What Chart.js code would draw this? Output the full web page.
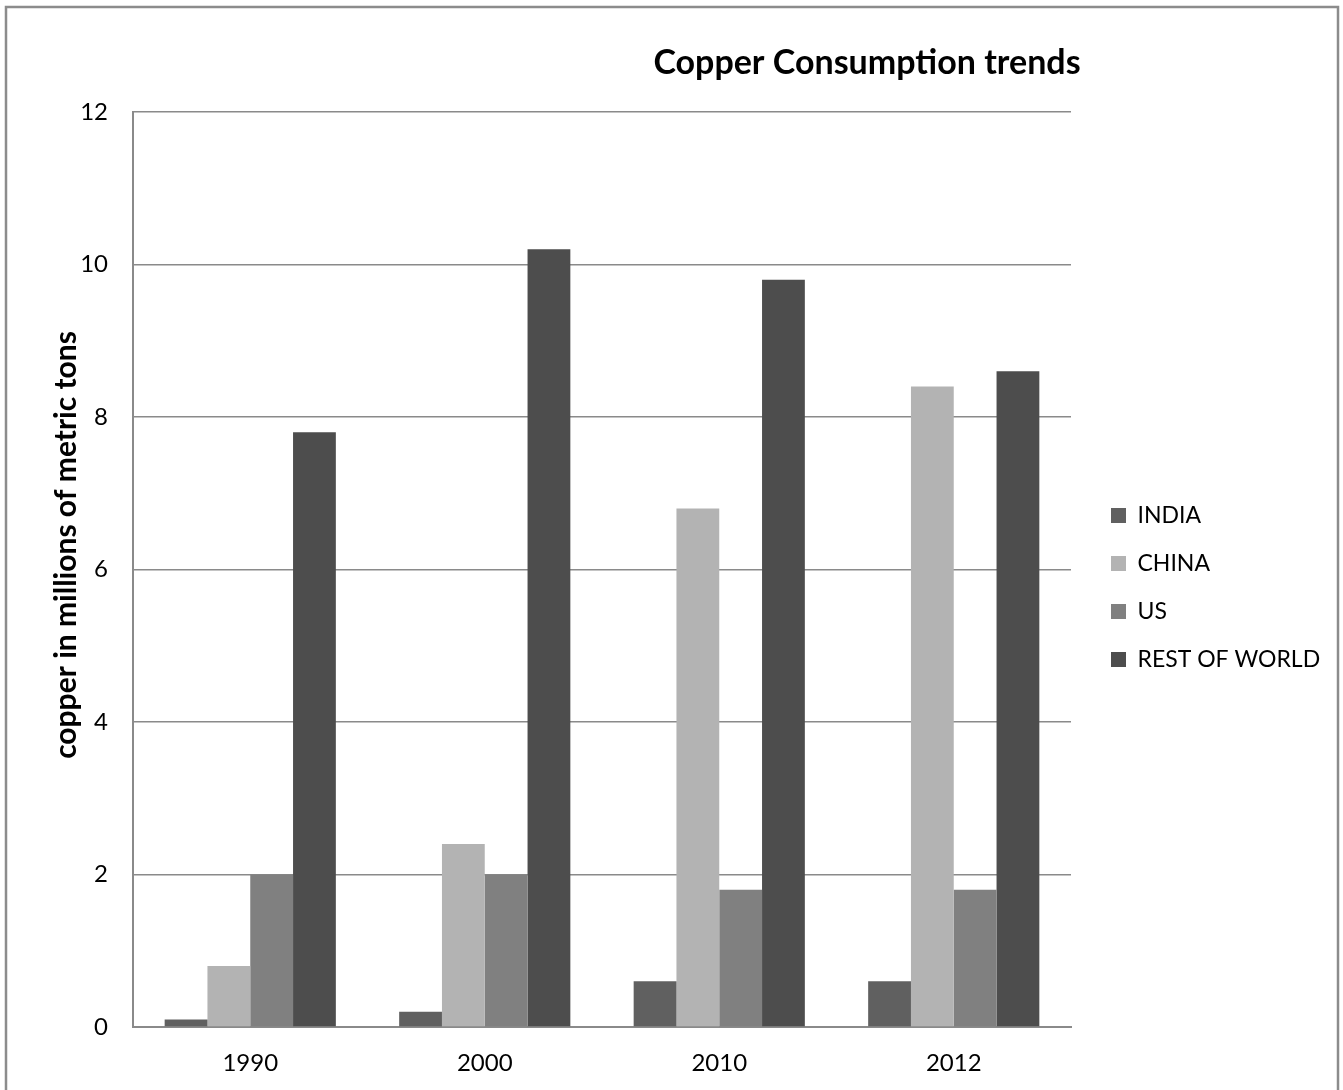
<!DOCTYPE html>
<html>
<head>
<meta charset="utf-8">
<script src="https://cdn.jsdelivr.net/npm/chart.js@4.4.1/dist/chart.umd.min.js"></script>
<style>
  html, body { margin: 0; padding: 0; background: #fff; }
</style>
</head>
<body>
<canvas id="myChart" width="1343" height="1090"></canvas>
<script>
// chart data
var years = ['1990', '2000', '2010', '2012'];
var india = [0.1, 0.2, 0.6, 0.6];
var china = [0.8, 2.4, 6.8, 8.4];
var us = [2.0, 2.0, 1.8, 1.8];
var restOfWorld = [7.8, 10.2, 9.8, 8.6];
var yTicks = [0, 2, 4, 6, 8, 10, 12];

var chartTitle = 'Copper Consumption trends';
var yTitle = 'copper in millions of metric tons';

var gridColor = '#8a8a8a';
var fontName = 'Lato';
var plotRight = 1071;   // where the plot area should end
var legendGap = 15;     // extra space between plot and legend

// frame + titles drawn on the canvas, legend nudged right
var decorations = {
    id: 'decorations',
    afterLayout: function(chart) {
        var lg = chart.legend;
        if (lg) {
            lg.left += legendGap;
            lg.right += legendGap;
        }
    },
    beforeDraw: function(chart) {
        var c = chart.ctx;
        c.save();
        c.fillStyle = '#fff';
        c.fillRect(0, 0, chart.width, chart.height);
        c.strokeStyle = '#8c8c8c';
        c.lineWidth = 2.5;
        c.strokeRect(6, 7, 1332, 1200);
        c.restore();
    },
    afterDraw: function(chart) {
        var c = chart.ctx;
        c.save();
        c.fillStyle = '#000';
        c.font = 'bold 34px ' + fontName;
        c.textAlign = 'center';
        c.textBaseline = 'alphabetic';
        c.fillText(chartTitle, 867, 74);

        c.translate(66, 545);
        c.rotate(-Math.PI / 2);
        c.font = 'bold 30px ' + fontName;
        c.textBaseline = 'middle';
        c.fillText(yTitle, 0, 0);
        c.restore();
    }
};

function build() {
    var ctx = document.getElementById('myChart').getContext('2d');
    var myChart = new Chart(ctx, {
        type: 'bar',
        data: {
            labels: years,
            datasets: [
                { label: 'INDIA', data: india, backgroundColor: '#606060' },
                { label: 'CHINA', data: china, backgroundColor: '#b3b3b3' },
                { label: 'US', data: us, backgroundColor: '#808080' },
                { label: 'REST OF WORLD', data: restOfWorld, backgroundColor: '#4d4d4d' }
            ]
        },
        options: {
            responsive: false,
            animation: false,
            categoryPercentage: 0.73,
            barPercentage: 1,
            layout: {
                padding: { top: 112, right: 40, bottom: 0, left: 0 }
            },
            scales: {
                x: {
                    grid: { display: false },
                    border: { display: true, color: gridColor, width: 2 },
                    ticks: { color: '#000', padding: 14, font: { family: fontName, size: 24 } },
                    afterFit: function(s) { s.height = 63; }
                },
                y: {
                    min: 0,
                    max: 12,
                    afterBuildTicks: function(s) {
                        s.ticks = yTicks.map(function(v) { return { value: v }; });
                    },
                    grid: { color: gridColor, lineWidth: 1.6, drawTicks: false },
                    border: { display: true, color: gridColor, width: 2 },
                    ticks: { color: '#000', padding: 25, font: { family: fontName, size: 24 } },
                    afterFit: function(s) { s.width = 133; }
                }
            },
            plugins: {
                title: { display: false },
                tooltip: { enabled: false },
                legend: {
                    position: 'right',
                    fullSize: false,
                    title: { display: true, text: '', padding: { top: 0, bottom: 21.6 }, font: { size: 12 } },
                    labels: {
                        boxWidth: 15,
                        boxHeight: 15,
                        padding: 25,
                        color: '#000',
                        font: { family: fontName, size: 23 }
                    }
                }
            }
        },
        plugins: [decorations]
    });

    // second pass: size the right padding so the plot ends where it should
    var lw = myChart.legend.width;
    myChart.options.layout.padding.right = Math.max(0, myChart.width - plotRight - lw);
    myChart.update();
}

Promise.all([
    document.fonts.load('23px ' + fontName),
    document.fonts.load('bold 30px ' + fontName)
]).then(build, build);
</script>
</body>
</html>
